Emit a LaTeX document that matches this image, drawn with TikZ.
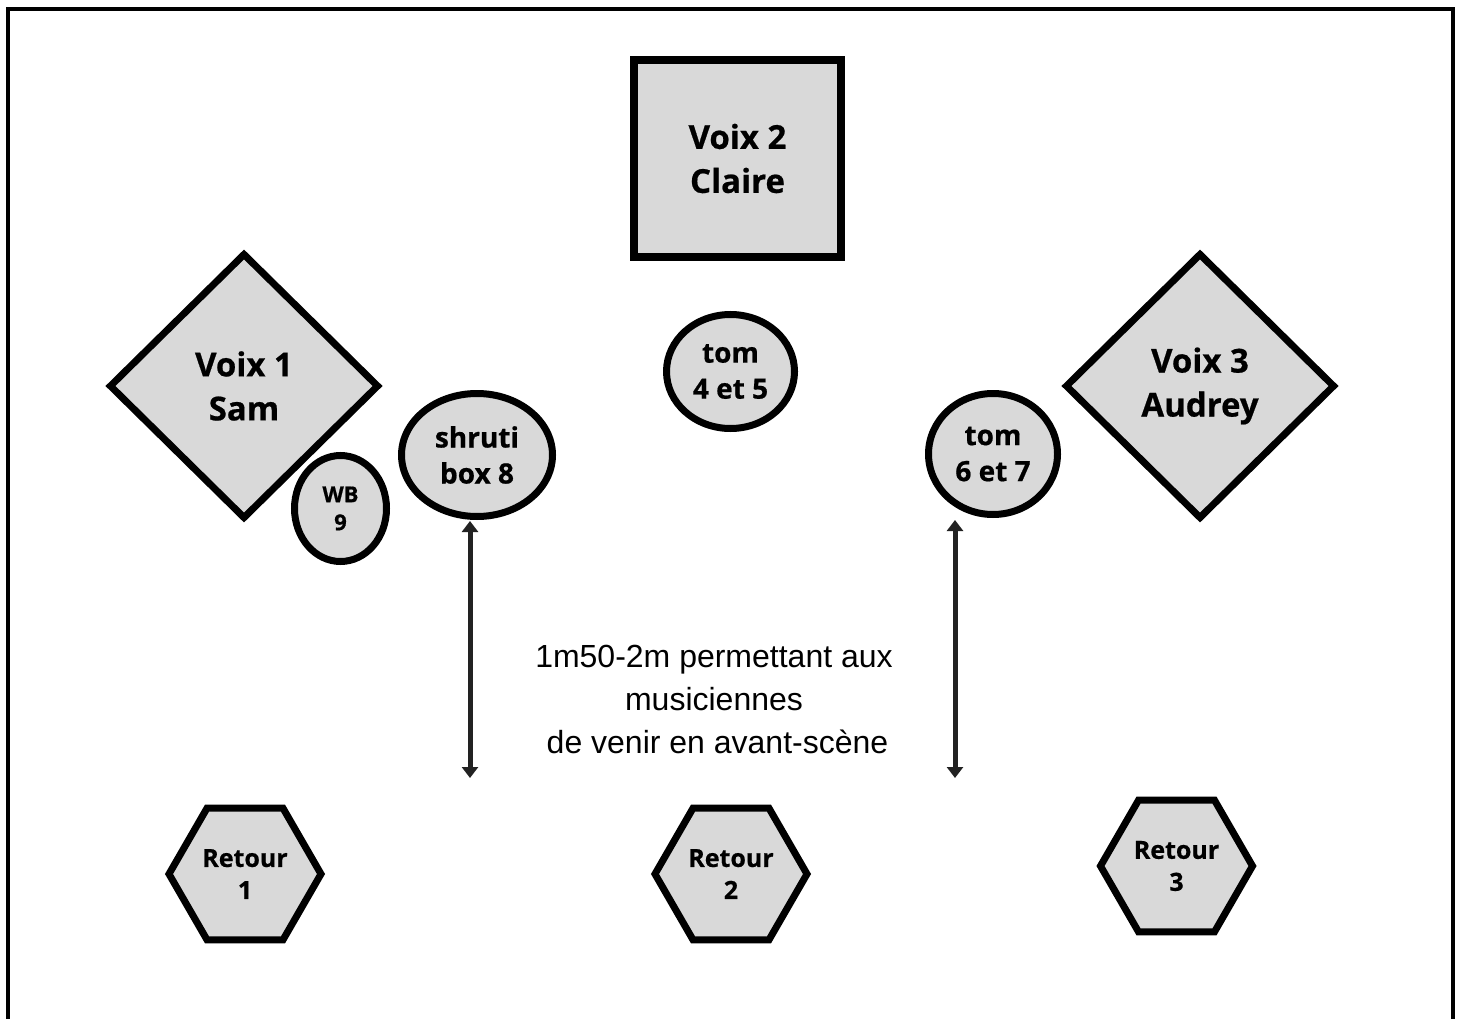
\documentclass[tikz,border=0pt]{standalone}
\usepackage{fontspec}
\usepackage{xcolor}
\usetikzlibrary{shapes.geometric, arrows.meta}

\newfontfamily\platefont{Open Sans}[BoldFeatures={FakeBold=0.6}]
\newfontfamily\notefont{Liberation Sans}
\definecolor{platefill}{RGB}{217,217,217}
\definecolor{gapgray}{RGB}{34,34,34}

\tikzset{
	plate/.style = {draw, line width=7pt, fill=platefill, align=center,
		inner sep=0pt, font=\platefont\bfseries},
	bigtext/.style = {font=\platefont\bfseries\fontsize{33}{44}\selectfont},
	midtext/.style = {font=\platefont\bfseries\fontsize{28}{36}\selectfont},
	smalltext/.style = {font=\platefont\bfseries\fontsize{22}{28}\selectfont},
	rettext/.style = {font=\platefont\bfseries\fontsize{25}{32}\selectfont},
	voice/.style = {plate, diamond, minimum width=270pt, minimum height=266pt, bigtext},
	instr/.style = {plate, ellipse, midtext},
	retour/.style = {plate, regular polygon, regular polygon sides=6,
		minimum size=152pt, rettext},
	gap/.style = {gapgray, line width=5pt,
		{Triangle[width=16pt,length=11pt]}-{Triangle[width=16pt,length=11pt]}}
}

\begin{document}
\begin{tikzpicture}[x=1pt, y=-1pt]
	\useasboundingbox (0,0) rectangle (1462,1019);

	% frame
	\draw [line width=3.5pt] (8,1030) -- (8,9) -- (1453,9) -- (1453,1030);

	% voices
	\node [plate, rectangle, line width=8pt, minimum width=207pt, minimum height=197pt, bigtext]
		(voix2) at (737.5,158.5) {Voix 2\\Claire};
	\node [voice] (voix1) at (244,386) {Voix 1\\Sam};
	\node [voice] (voix3) at (1200,386) {Voix 3\\Audrey};

	% instruments
	\node [instr, minimum width=128pt, minimum height=114pt] (tom45) at (730.5,371.5) {tom\\4 et 5};
	\node [instr, minimum width=151pt, minimum height=123pt] (shruti) at (477,455) {shruti\\box 8};
	\node [instr, minimum width=92pt, minimum height=106pt, smalltext] (wb) at (340.5,508.5) {WB\\9};
	\node [instr, minimum width=129pt, minimum height=121pt] (tom67) at (993,454) {tom\\6 et 7};

	% monitors
	\node [retour] (ret1) at (245,874) {Retour\\1};
	\node [retour] (ret2) at (731,874) {Retour\\2};
	\node [retour] (ret3) at (1176.5,866) {Retour\\3};

	% space in front
	\coordinate (gapAtop) at (470,521);
	\coordinate (gapAbot) at (470,778);
	\coordinate (gapBtop) at (955,520);
	\coordinate (gapBbot) at (955,778);
	\draw [gap] (gapAtop) -- (gapAbot);
	\draw [gap] (gapBtop) -- (gapBbot);

	\node [align=center, font=\notefont\fontsize{32}{43}\selectfont, inner sep=0pt] (note) at (714,699)
		{1m50-2m permettant aux\\musiciennes\\\hspace*{7pt}de venir en avant-sc\`ene};
\end{tikzpicture}
\end{document}
